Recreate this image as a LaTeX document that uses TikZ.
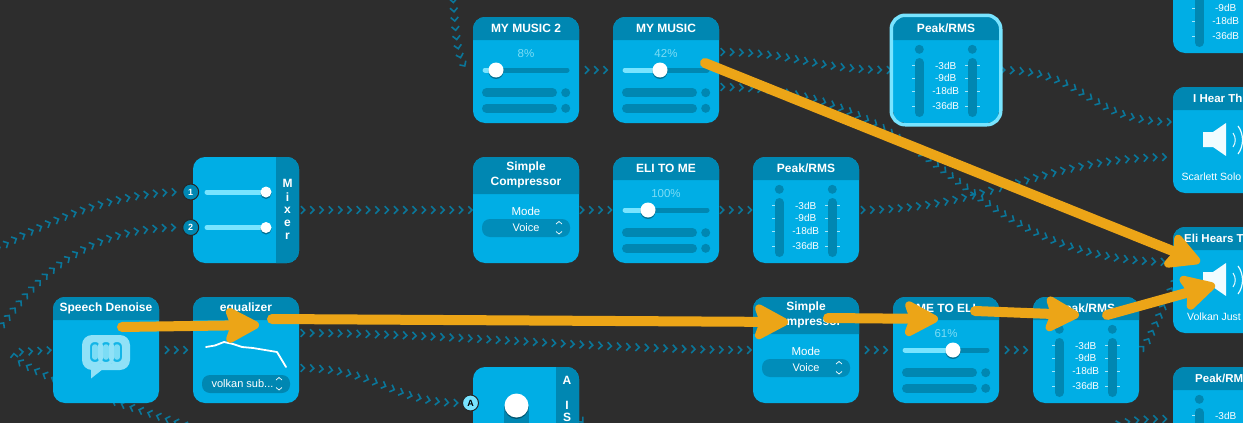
\documentclass[tikz,border=0pt]{standalone}
\usepackage{fontspec}
\setmainfont{Liberation Sans}
\usetikzlibrary{arrows.meta,backgrounds,decorations.markings}

\definecolor{bgdark}{HTML}{2D2D2D}
\definecolor{bodyblue}{HTML}{00AEE5}
\definecolor{headblue}{HTML}{0087B2}
\definecolor{flowblue}{HTML}{0A7699}
\definecolor{paleblue}{HTML}{78E4FF}
\definecolor{pctblue}{HTML}{7CDCF5}
\definecolor{ticklight}{HTML}{A8E4F6}
\definecolor{orangearrow}{HTML}{ECA517}

\tikzset{
  modbox/.style={fill=bodyblue, rounded corners=12pt, minimum size=106pt, inner sep=0pt},
  modtitle/.style={text=white, font=\fontsize{12}{15}\selectfont\bfseries, inner sep=0pt, align=center},
  modcut/.style={modtitle, anchor=west, font=\fontsize{11.5}{15}\selectfont\bfseries},
  modtext/.style={text=white, font=\fontsize{11.5}{13}\selectfont, inner sep=0pt},
  smalltext/.style={text=white, font=\fontsize{10.5}{12}\selectfont, inner sep=0pt},
  pct/.style={text=pctblue, font=\fontsize{11.5}{12}\selectfont, inner sep=0pt},
  dblabel/.style={text=white, font=\fontsize{10}{11}\selectfont, inner sep=0pt},
  track/.style={line width=5pt, line cap=round, draw=headblue},
  trackon/.style={line width=5pt, line cap=round, draw=paleblue},
  slot/.style={line width=9pt, line cap=round, draw=headblue},
  caret/.style={draw=white, line width=0.7pt},
  badge/.style={circle, draw=black!85, line width=1pt, minimum size=16pt, inner sep=0pt,
    font=\fontsize{9}{10}\selectfont\bfseries},
  flow/.style={decorate, decoration={markings,
    mark=between positions #1 and -2pt step 9.3pt with {
      \draw[flowblue, line width=1.6pt] (-2.3pt,-3.8pt) -- (1.5pt,0pt) -- (-2.3pt,3.8pt);}}},
  flow/.default=4pt,
  bigarrow/.style={draw=orangearrow, line width=10pt, line cap=round,
    -{Stealth[length=40pt, width=42pt, inset=7pt, round, line width=8pt]}}
}

\newcommand{\modhead}[1]{%
  \fill[headblue] (0,#1) [rounded corners=12pt] -- (0,0) -- (106,0) [sharp corners] -- (106,#1) -- cycle;}
\newcommand{\knob}[3]{%
  \fill[black, opacity=0.35] (#1,#2+1.5) circle (#3);
  \fill[white] (#1,#2) circle (#3);}
\newcommand{\updown}[3]{%
  \draw[caret] (#1-3,#2+1.5) -- (#1,#2-1) -- (#1+3,#2+1.5);
  \draw[caret] (#1-3,#3-1.5) -- (#1,#3+1) -- (#1+3,#3-1.5);}

% name, x, y, title, percent, knob
\newcommand{\slidermod}[6]{%
  \node[modbox] (#1) at (#2+53,#3+53) {};
  \begin{scope}[shift={(#2,#3)}]
    \modhead{23}
    \node[modtitle] (#1-title) at (53,11.5) {#4};
    \node[pct] (#1-pct) at (53,37) {#5};
    \draw[track] (12,53) -- (94,53);
    \draw[trackon] (12,53) -- (#6,53);
    \knob{#6}{53}{7.5}
    \foreach \y in {75.7,91.3} {
      \draw[slot] (13.5,\y) -- (79.5,\y);
      \fill[headblue] (92.7,\y) circle (4.5);
    }
  \end{scope}}

% name, x, y, title, labels
\newcommand{\peakmod}[5]{%
  \node[modbox] (#1) at (#2+53,#3+53) {};
  \begin{scope}[shift={(#2,#3)}]
    \modhead{23}
    \node[modtitle] (#1-title) at (53,11.5) {#4};
    \foreach \x in {26.3,79.3} {
      \fill[headblue] (\x,32.3) circle (4.5);
      \draw[slot] (\x,45.5) -- (\x,95.5);
    }
    \edef\dblist{#5}
    \foreach \y/\t [count=\i] in \dblist {
      \node[dblabel] (#1-db\i) at (52.7,\y) {\t};
      \foreach \a/\b in {19/22,72/75,84/87}
        \draw[ticklight, line width=0.6pt] (\a,\y) -- (\b,\y);
    }
  \end{scope}}
\newcommand{\alldb}{48.7/-3dB,61/-9dB,74/-18dB,89/-36dB}

% name, x, y
\newcommand{\compmod}[3]{%
  \node[modbox] (#1) at (#2+53,#3+53) {};
  \begin{scope}[shift={(#2,#3)}]
    \modhead{37}
    \node[modtitle] (#1-title) at (53,18.2) {Simple\\Compressor};
    \node[modtext] (#1-mode) at (53,54) {Mode};
    \fill[headblue!85!bodyblue, rounded corners=8pt] (9,62) rectangle (97,80);
    \node[modtext, font=\fontsize{11}{12}\selectfont] (#1-voice) at (53,71) {Voice};
    \updown{86}{65.5}{76}
  \end{scope}}

% name, x, y, title, title offset, label, label offset
\newcommand{\speakermod}[7]{%
  \node[modbox] (#1) at (#2+53,#3+53) {};
  \begin{scope}[shift={(#2,#3)}]
    \modhead{23}
    \node[modcut] (#1-title) at (#5,11.5) {#4};
    \fill[white!90!paleblue] (30,45) -- (40,45) -- (53,36) -- (53,69) -- (40,60) -- (30,60) -- cycle;
    \draw[white!85!paleblue, line width=1pt] (60,46) .. controls (63,50) and (63,56) .. (60,60);
    \draw[white!85!paleblue, line width=1.2pt] (65,39) .. controls (71,47) and (71,59) .. (65,67);
    \node[smalltext, anchor=west] (#1-label) at (#7,90) {#6};
  \end{scope}}

\begin{document}
\begin{tikzpicture}[x=1pt, y=-1pt]
  \useasboundingbox (0,0) rectangle (1243,423);

  % top row
  \slidermod{music2}{473}{17}{MY MUSIC 2}{8\%}{23}
  \slidermod{music}{613}{17}{MY MUSIC}{42\%}{47}
  \peakmod{peakA}{893}{17}{Peak/RMS}{\alldb}
  \node[draw=paleblue, line width=3.5pt, rounded corners=14pt, minimum size=109.5pt, inner sep=0pt] (peakA-ring) at (946,70) {};

  % middle row
  \node[modbox] (mixer) at (246,210) {};
  \fill[headblue] (276,157) [rounded corners=12pt] -- (299,157) -- (299,263) [sharp corners] -- (276,263) -- cycle;
  \foreach \y/\n in {192/1,227.5/2} {
    \draw[trackon] (207,\y) -- (264,\y);
    \knob{266}{\y}{5.5}
    \node[badge, fill=headblue, text=white] (mixer-in\n) at (190.7,\y) {\n};
  }
  \foreach \y/\t in {183/M,197/i,210/x,223/e,236/r}
    \node[modtitle] (mixer-\t) at (287.5,\y) {\t};
  \compmod{compA}{473}{157}
  \slidermod{eliToMe}{613}{157}{ELI TO ME}{100\%}{35}
  \peakmod{peakB}{753}{157}{Peak/RMS}{\alldb}

  % bottom row
  \node[modbox] (denoise) at (106,350) {};
  \begin{scope}[shift={(53,297)}]
    \modhead{23}
    \node[modtitle] (denoise-title) at (53,11.5) {Speech Denoise};
    \fill[pctblue!85!white] (38,72) -- (38,81.5) -- (50,72) -- cycle;
    \fill[pctblue!85!white, rounded corners=10pt] (29,38) rectangle (77,73);
    \fill[bodyblue!85!pctblue, rounded corners=8pt] (35,44) rectangle (71,66);
    \foreach \x in {42,53,64} {
      \draw[pctblue!85!white, line width=3pt, rounded corners=6pt] (\x-6.5,43.5) rectangle (\x+6.5,66.5);
      \draw[pctblue, line width=5.5pt, line cap=round] (\x,50) -- (\x,60);
    }
  \end{scope}
  \node[modbox] (equalizer) at (246,350) {};
  \begin{scope}[shift={(193,297)}]
    \modhead{23}
    \node[modtitle] (equalizer-title) at (53,11.5) {equalizer};
    \draw[white, line width=1.8pt, line cap=round, line join=round]
      (13,50) -- (22,48.5) -- (31,45) -- (40,47) -- (49,50) -- (60,51) -- (84,55) -- (93,70);
    \fill[headblue, rounded corners=8pt] (9,78) rectangle (97,96);
    \node[modtext, font=\fontsize{11}{12}\selectfont] (equalizer-preset) at (49.5,87) {volkan sub...};
    \updown{86}{81.5}{92}
  \end{scope}
  \compmod{compB}{753}{297}
  \slidermod{meToEli}{893}{297}{ME TO ELI}{61\%}{60}
  \peakmod{peakC}{1033}{297}{Peak/RMS}{\alldb}

  % A I S module, cut by the lower edge
  \node[modbox] (ais) at (526,420) {};
  \fill[headblue] (556,367) [rounded corners=12pt] -- (579,367) -- (579,473) [sharp corners] -- (556,473) -- cycle;
  \fill[headblue] (504,406) rectangle (529,423);
  \knob{516.5}{405.5}{12}
  \node[modtitle] (ais-a) at (567,380) {A};
  \node[modtitle] (ais-i) at (567,405) {I};
  \node[modtitle] (ais-s) at (567,417) {S};
  \node[badge, fill=paleblue, text=black] (ais-in) at (470.5,403) {A};

  % right column, cut by the right edge
  \peakmod{peakD}{1173}{-53}{}{61/-9dB,74/-18dB,89/-36dB}
  \speakermod{iHear}{1173}{87}{I Hear Th}{20}{Scarlett Solo}{8.5}
  \speakermod{eliHears}{1173}{227}{Eli Hears T}{11}{Volkan Just}{14}
  \peakmod{peakE}{1173}{367}{}{48.7/-3dB}
  \node[modcut] (peakE-cut) at (1195,378.5) {Peak/RM};

  \coordinate (topIn) at (453,-3);
  \coordinate (musicOutA) at (719,52);
  \coordinate (musicOutB) at (719,87);
  \coordinate (eliIn) at (1173,262);
  \coordinate (iHearInA) at (1173,122);
  \coordinate (iHearInB) at (1173,157);
  \coordinate (mixLeftA) at (-5,250);
  \coordinate (mixLeftB) at (-5,335);
  \coordinate (loopStart) at (215,435);
  \coordinate (loopTurn) at (20,362);
  \coordinate (eqOutA) at (299,333);
  \coordinate (eqOutB) at (299,368);
  \coordinate (peakCUp) at (1190,250);
  \coordinate (peakEFrom) at (1115,425);
  \coordinate (peakEIn) at (1173,419);
  \coordinate (aisOut) at (579,418);
  \coordinate (aisEnd) at (592,432);

  \begin{scope}[on background layer]
    \fill[bgdark] (0,0) rectangle (1243,423);
    \path[flow] (topIn) .. controls (456,40) and (458,70) .. (music2.west);
    \path[flow=8pt] (music2.east) -- (music.west);
    \path[flow] (musicOutA) .. controls (800,52) and (810,70) .. (peakA.west);
    \path[flow] (musicOutB) .. controls (950,87) and (950,262) .. (eliIn);
    \path[flow] (peakA.east) .. controls (1090,70) and (1085,122) .. (iHearInA);
    \path[flow] (peakB.east) .. controls (990,210) and (1040,157) .. (iHearInB);
    \path[flow] (mixer.east) -- (compA.west);
    \path[flow=3pt] (compA.east) -- (eliToMe.west);
    \path[flow=3pt] (eliToMe.east) -- (peakB.west);
    \path[flow] (mixLeftA) .. controls (40,225) and (110,192) .. (mixer-in1);
    \path[flow] (mixLeftB) .. controls (40,270) and (90,227) .. (mixer-in2);
    \path[flow] (loopStart) .. controls (110,400) and (60,385) .. (loopTurn)
      .. controls (12,357) and (12,351) .. (20,352) -- (denoise.west);
    \path[flow=8pt] (denoise.east) -- (equalizer.west);
    \path[flow] (eqOutA) .. controls (450,333) and (600,350) .. (compB.west);
    \path[flow] (eqOutB) .. controls (380,368) and (390,403) .. (ais-in);
    \path[flow] (aisOut) -- (aisEnd);
    \path[flow=8pt] (compB.east) -- (meToEli.west);
    \path[flow=8pt] (meToEli.east) -- (peakC.west);
    \path[flow] (peakC.east) .. controls (1150,345) and (1155,320) .. (peakCUp);
    \path[flow] (peakEFrom) .. controls (1135,419) and (1150,419) .. (peakEIn);
  \end{scope}

  % the big arrows lie on top of everything
  \coordinate (denoiseMark) at (122,327);
  \coordinate (eqTip) at (259,325);
  \coordinate (eqMark) at (272,319);
  \coordinate (compTip) at (788,322);
  \coordinate (compMark) at (828,318);
  \coordinate (meTip) at (938,319);
  \coordinate (meMark) at (975,311);
  \coordinate (peakTip) at (1079,315);
  \coordinate (peakMark) at (1107,315);
  \coordinate (speakerTip) at (1215,285);
  \coordinate (musicMark) at (705,63);
  \coordinate (eliTip) at (1200,262);
  \draw[bigarrow] (denoiseMark) -- (eqTip);
  \draw[bigarrow] (eqMark) -- (compTip);
  \draw[bigarrow] (compMark) -- (meTip);
  \draw[bigarrow] (meMark) -- (peakTip);
  \draw[bigarrow] (peakMark) -- (speakerTip);
  \draw[bigarrow] (musicMark) -- (eliTip);
\end{tikzpicture}
\end{document}
